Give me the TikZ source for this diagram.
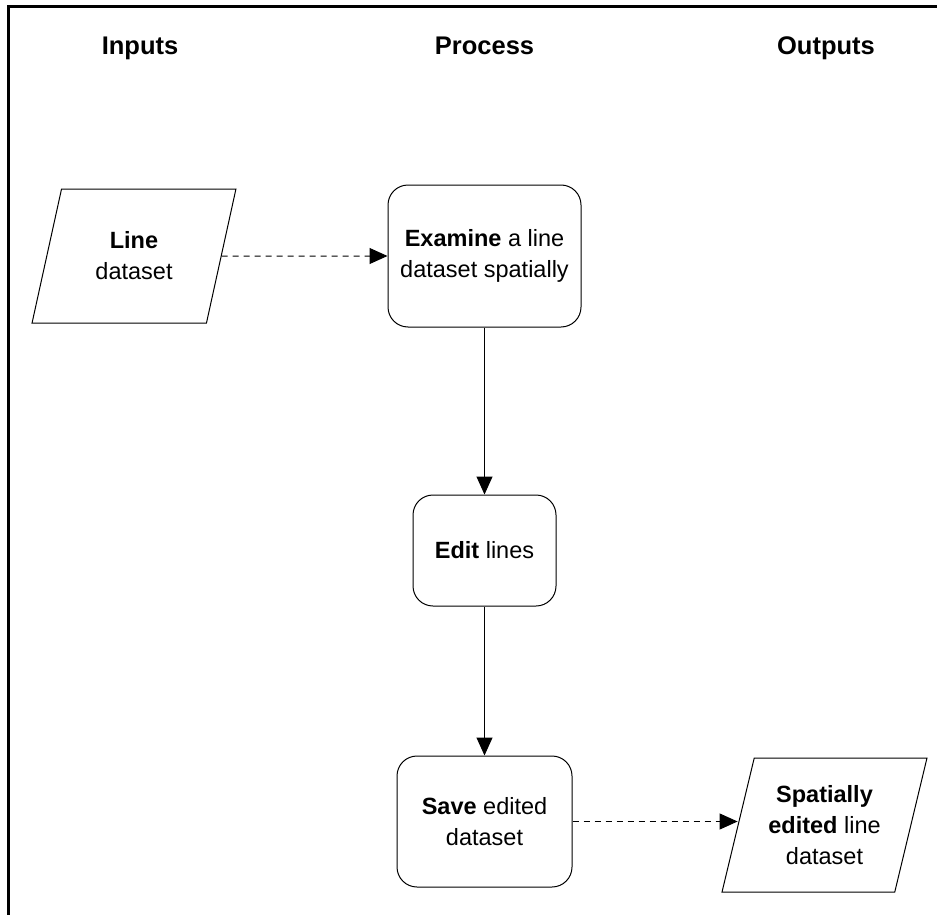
\documentclass[tikz,border=0pt]{standalone}
\usepackage{fontspec}
\setmainfont{Liberation Sans}
\usetikzlibrary{shapes.geometric,arrows.meta}
\begin{document}
\begin{tikzpicture}[x=1pt,y=-1pt,
  font=\fontsize{23.5}{31}\selectfont,
  head/.style={font=\fontsize{25.5}{31}\selectfont\bfseries,anchor=base},
  proc/.style={draw,line width=1pt,rounded corners=20pt,align=center,inner sep=0pt},
  data/.style={draw,line width=1pt,trapezium,trapezium left angle=72,trapezium right angle=108,
    trapezium stretches=true,align=center,inner sep=0pt,minimum width=204pt,minimum height=134pt},
  flow/.style={->,>={Triangle[length=18pt,width=16pt]},line width=1pt},
  dashflow/.style={flow,dash pattern=on 6pt off 5pt}]
  \useasboundingbox (0,0) rectangle (937,915);
  \draw[line width=2.5pt] (937,6.5) -| (8.5,915); % frame

  \node[head] (inputs) at (140,55) {Inputs};
  \node[head] (process) at (484.5,55) {Process};
  \node[head] (outputs) at (826,55) {Outputs};

  \node[data] (line) at (134,256) {\textbf{Line}\\dataset};
  \node[proc,minimum width=193pt,minimum height=142pt] (examine) at (484.5,256) {\textbf{Examine} a line\\dataset spatially};
  \node[proc,minimum width=143pt,minimum height=111pt] (edit) at (484.5,550.5) {\textbf{Edit} lines};
  \node[proc,minimum width=175pt,minimum height=131pt] (save) at (484.5,821.5) {\textbf{Save} edited\\dataset};
  \node[data,minimum width=205pt] (result) at (824.5,825) {\textbf{Spatially}\\\textbf{edited} line\\dataset};

  \draw[dashflow] (line) -- (examine);
  \draw[flow] (examine) -- (edit);
  \draw[flow] (edit) -- (save);
  \draw[dashflow] (save.east) -- (save.east -| result.west);
\end{tikzpicture}
\end{document}
